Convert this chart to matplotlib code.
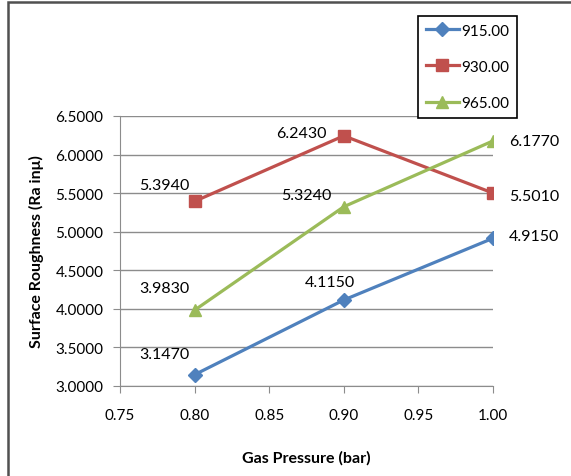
import matplotlib.pyplot as plt
from matplotlib.patches import Rectangle
from matplotlib.ticker import FormatStrFormatter

plt.rcParams['font.family'] = ['Lato', 'DejaVu Sans']

# gas pressure (bar) and surface roughness for each temperature
pressure = [0.80, 0.90, 1.00]
series_names = ['915.00', '930.00', '965.00']
ra_915 = [3.147, 4.115, 4.915]
ra_930 = [5.394, 6.243, 5.501]
ra_965 = [3.983, 5.324, 6.177]

colors = ['#4F81BD', '#C0504D', '#9BBB59']
markers = ['D', 's', '^']
msizes = [7, 8, 9]
# label offsets in pixels (dx, dy) for each point
offsets = [
    [(-30, 21), (-14, 18), (41, 2)],
    [(-30, 16), (-42, 3), (41, -3)],
    [(-30, 22), (-37, 12), (41, 0)],
]

fig = plt.figure(figsize=(5.71, 4.77), dpi=100)
ax = fig.add_axes([120 / 571, 1 - 387 / 477, 373 / 571, 270 / 477])

for vals, name, c, m, ms, offs in zip([ra_915, ra_930, ra_965], series_names,
                                      colors, markers, msizes, offsets):
    ax.plot(pressure, vals, color=c, lw=2.3, marker=m, markersize=ms, label=name, zorder=3)
    for x, y, (dx, dy) in zip(pressure, vals, offs):
        ax.annotate('%.4f' % y, (x, y), xytext=(dx * 0.72, dy * 0.72),
                    textcoords='offset points', ha='center', va='center',
                    fontsize=11.5, color='black')

ax.set_xlim(0.75, 1.00)
ax.set_ylim(3.0, 6.5)
ax.set_xticks([0.75, 0.80, 0.85, 0.90, 0.95, 1.00])
ax.set_yticks([3.0, 3.5, 4.0, 4.5, 5.0, 5.5, 6.0, 6.5])
ax.xaxis.set_major_formatter(FormatStrFormatter('%.2f'))
ax.yaxis.set_major_formatter(FormatStrFormatter('%.4f'))
ax.grid(axis='y', color='#8c8c8c', lw=1)
ax.set_axisbelow(True)
for s in ['top', 'right']:
    ax.spines[s].set_visible(False)
for s in ['left', 'bottom']:
    ax.spines[s].set_color('#8c8c8c')
ax.tick_params(colors='#8c8c8c', labelcolor='black', labelsize=11, length=5, pad=11)
ax.tick_params(axis='y', pad=7)

ax.set_xlabel('Gas Pressure (bar)', fontsize=11.5, fontweight='bold', labelpad=20)
ax.set_ylabel('Surface Roughness (Ra inμ)', fontsize=11.5, fontweight='bold', labelpad=8)

leg = fig.legend(loc='upper left', bbox_to_anchor=(418 / 571, 1 - 17 / 477),
                 bbox_transform=fig.transFigure, borderaxespad=0, fontsize=11,
                 labelspacing=1.45, handlelength=2.2, handletextpad=0.15,
                 borderpad=0.5, fancybox=False, framealpha=1)
leg.get_frame().set_edgecolor('black')
leg.get_frame().set_linewidth(1.2)

# outer chart border
fig.patches.append(Rectangle((8 / 571, -0.1), 1.1, 1.1 - 3 / 477,
                             transform=fig.transFigure, fill=False,
                             edgecolor='#505050', lw=1.8))

fig.savefig('out.png', dpi=100)
